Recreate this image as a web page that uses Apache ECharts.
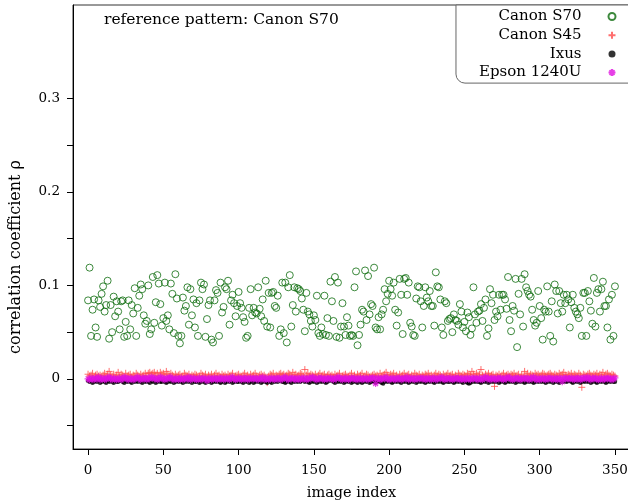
<!DOCTYPE html>
<html><head><meta charset="utf-8">
<script src="https://cdn.jsdelivr.net/npm/echarts@6/dist/echarts.min.js"></script>
<style>html,body{margin:0;padding:0;background:#fff}#c{width:628px;height:504px}</style>
</head><body><div id="c"></div>
<script>
const seriesNames = ['Canon S70', 'Canon S45', 'Ixus', 'Epson 1240U'];
const xTicks = [0, 50, 100, 150, 200, 250, 300, 350];
const yTicks = [-0.05, 0, 0.05, 0.1, 0.15, 0.2, 0.25, 0.3];
const yLabels = [0, 0.1, 0.2, 0.3];
const annotation = 'reference pattern: Canon S70';
const xTitle = 'image index';
const yTitle = 'correlation coefficient ρ';

const canonS70 = [
0.084,0.119,0.046,0.074,0.085,0.055,0.045,0.084,0.077,0.091,
0.099,0.072,0.079,0.105,0.043,0.079,0.050,0.088,0.067,0.083,
0.072,0.053,0.083,0.084,0.045,0.061,0.046,0.084,0.053,0.079,
0.070,0.097,0.046,0.076,0.089,0.101,0.096,0.068,0.059,0.062,
0.100,0.048,0.053,0.109,0.060,0.082,0.111,0.102,0.080,0.057,
0.065,0.103,0.062,0.068,0.053,0.102,0.091,0.049,0.112,0.086,
0.046,0.038,0.046,0.087,0.073,0.078,0.098,0.058,0.096,0.068,
0.085,0.055,0.081,0.046,0.084,0.103,0.096,0.101,0.045,0.064,
0.079,0.084,0.042,0.039,0.084,0.095,0.092,0.046,0.103,0.071,
0.077,0.098,0.096,0.105,0.058,0.084,0.090,0.081,0.067,0.078,
0.093,0.081,0.076,0.066,0.061,0.044,0.046,
0.076,0.096,0.068,0.076,0.071,0.070,0.098,0.075,0.067,0.085,
0.062,0.105,0.056,0.092,0.055,0.092,0.093,0.078,0.076,0.089,
0.046,0.053,0.103,0.049,0.103,0.039,0.098,0.111,0.056,0.079,
0.098,0.072,0.097,0.096,0.094,0.086,0.074,0.051,0.092,0.072,
0.069,0.062,0.056,0.068,0.063,0.089,0.049,0.046,0.055,0.048,
0.089,0.047,0.065,0.046,0.104,0.083,0.062,0.109,0.045,0.103,
0.044,0.056,0.081,0.056,0.047,0.066,0.057,0.046,0.047,0.046,
0.098,0.115,0.036,0.047,0.058,0.074,0.072,0.116,0.063,0.110,
0.069,0.080,0.078,0.119,0.055,0.053,0.066,0.053,0.069,0.074,
0.096,0.083,0.091,0.105,0.096,0.089,0.103,0.074,0.057,0.071,
0.107,0.090,0.048,0.107,0.108,0.090,0.103,0.060,0.056,0.047,
0.046,0.086,0.099,0.098,0.083,0.055,0.078,0.098,0.087,0.083,
0.094,0.078,0.078,0.057,0.114,0.099,
0.098,0.085,0.055,0.047,0.083,0.081,0.062,0.064,0.065,0.050,
0.069,0.063,0.062,0.058,0.080,0.072,0.055,0.061,0.051,0.071,
0.066,0.047,0.054,0.098,0.069,0.060,0.072,0.073,0.080,0.062,0.076,
0.085,0.046,0.054,0.096,0.081,0.090,0.063,0.072,0.067,0.090,
0.074,0.090,0.090,0.085,0.075,0.109,0.063,0.051,0.078,0.073,
0.107,0.034,0.091,0.069,0.107,0.056,0.112,0.098,0.094,0.090,
0.088,0.074,0.063,0.057,0.060,0.094,0.078,0.065,0.042,0.074,0.072,
0.099,0.072,0.046,0.083,0.040,0.101,0.094,0.070,0.094,0.081,
0.072,0.090,0.081,0.090,0.085,0.055,0.082,0.090,0.076,0.072,
0.069,0.065,0.076,0.046,0.092,0.092,0.046,0.094,0.083,0.073,
0.059,0.108,0.056,0.092,0.096,0.072,0.096,0.104,0.078,0.078,0.055,
0.085,0.042,0.090,0.046,0.099
];

const canonS45 = [
0.005,0.003,0.004,0.006,0.002,0.004,0.005,0.003,0.004,0.002,
0.004,0.006,0.003,0.005,0.008,0.004,0.003,0.005,0.002,0.004,
0.007,0.003,0.005,0.004,0.002,0.006,0.003,0.004,0.005,0.002,
0.004,0.003,0.006,0.004,0.002,0.005,0.003,0.004,0.006,0.003,
0.006,0.007,0.005,0.006,0.007,0.004,0.006,0.003,0.007,0.005,
0.006,0.004,0.008,0.005,0.003,0.006,0.004,0.002,0.005,0.003,
0.004,0.005,0.002,0.003,0.006,0.004,0.003,0.005,0.002,0.004,
0.003,0.005,0.004,0.002,0.003,0.006,0.004,0.003,0.005,0.002,
0.004,0.003,0.005,0.002,0.004,0.006,0.003,0.004,0.002,0.005,
0.003,0.004,0.002,0.005,0.003,0.004,0.006,0.002,0.003,0.004,
0.005,0.003,0.002,0.004,0.006,0.003,0.004,0.002,0.005,0.003,
0.004,0.006,0.003,0.002,0.004,0.005,0.003,0.004,0.002,-0.004,
0.003,0.005,0.004,0.006,0.002,0.004,0.003,0.005,0.006,0.004,
0.005,0.003,0.004,0.006,0.005,0.003,0.007,0.004,0.005,0.003,
0.004,0.006,0.005,0.003,0.010,0.004,0.006,0.003,0.005,0.004,
0.003,0.005,0.002,0.004,0.006,0.003,0.004,0.005,0.002,0.004,
0.005,0.003,0.004,0.002,0.005,0.003,0.004,0.006,0.002,0.003,
0.004,0.005,0.003,0.002,0.004,0.006,0.003,0.004,0.002,0.005,
0.003,0.004,0.006,0.002,0.003,0.005,0.004,0.002,0.003,0.004,
0.005,0.003,0.004,0.002,0.006,0.003,0.004,0.005,0.007,0.004,
0.003,0.005,0.004,0.006,0.003,0.004,0.002,0.005,0.003,0.004,
0.006,0.003,0.004,0.005,0.002,0.004,0.003,0.006,0.004,0.003,
0.005,0.002,0.004,0.003,0.005,0.004,0.006,0.003,0.004,0.002,
0.004,0.006,0.003,0.005,0.004,0.002,0.005,0.003,0.004,0.006,
0.003,0.004,0.005,0.002,0.004,0.003,0.006,0.004,0.003,0.005,
0.004,0.003,0.006,0.005,0.004,0.008,0.005,0.003,0.006,0.004,
0.005,0.010,0.004,0.003,0.005,0.004,0.006,0.003,0.004,0.005,
-0.008,0.004,0.003,0.005,0.002,0.004,0.006,0.003,0.004,0.005,
0.003,0.005,0.004,0.006,0.003,0.004,0.005,0.002,0.004,0.003,
0.008,0.004,0.006,0.003,0.005,0.004,0.003,0.006,0.004,0.005,
0.003,0.004,0.006,0.005,0.003,0.004,0.005,0.006,0.004,0.003,
0.005,0.004,0.003,0.006,0.004,0.005,0.007,0.004,0.003,0.005,
0.004,0.006,0.003,0.005,0.004,0.003,0.006,0.004,-0.009,0.005,
0.004,0.003,0.005,0.006,0.004,0.003,0.005,0.004,0.006,0.003,
0.005,0.004,0.007,0.003,0.005,0.006,0.004,0.003,0.005,0.004,
0.003
];

const ixus = [
-0.002,-0.003,-0.002,-0.004,-0.003,-0.002,-0.003,-0.002,-0.004,-0.003,
-0.002,-0.003,-0.004,-0.002,-0.003,-0.002,-0.003,-0.004,-0.002,-0.003,
-0.003,-0.002,-0.001,-0.003,-0.004,-0.002,-0.003,-0.002,-0.003,-0.004,
-0.002,-0.003,-0.002,-0.003,-0.001,-0.003,-0.004,-0.002,-0.003,-0.002,
-0.003,-0.004,-0.002,-0.003,-0.002,-0.004,-0.003,-0.002,-0.003,-0.003,
-0.002,-0.003,-0.004,-0.003,-0.002,-0.003,-0.002,-0.004,-0.003,-0.002,
-0.003,-0.002,-0.003,-0.004,-0.002,-0.003,-0.001,-0.003,-0.002,-0.004,
-0.002,-0.003,-0.003,-0.002,-0.004,-0.003,-0.002,-0.003,-0.004,-0.002,
-0.003,-0.002,-0.004,-0.003,-0.002,-0.003,-0.002,-0.003,-0.004,-0.003,
-0.002,-0.004,-0.003,-0.002,-0.003,-0.002,-0.004,-0.003,-0.002,-0.003,
-0.003,-0.002,-0.003,-0.004,-0.002,-0.003,-0.002,-0.004,-0.003,-0.002,
-0.004,-0.003,-0.002,-0.003,-0.002,-0.004,-0.003,-0.002,-0.003,-0.004,
-0.002,-0.003,-0.004,-0.002,-0.003,-0.002,-0.003,-0.001,-0.002,-0.003,
-0.003,-0.004,-0.003,-0.002,-0.003,-0.004,-0.002,-0.003,-0.002,-0.003,
-0.002,-0.003,-0.002,-0.001,-0.003,-0.002,-0.003,-0.004,-0.003,-0.002,
-0.003,-0.002,-0.004,-0.003,-0.002,-0.003,-0.002,-0.003,-0.004,-0.003,
-0.002,-0.001,-0.002,-0.003,-0.004,-0.002,-0.003,-0.002,-0.003,-0.002,
-0.004,-0.003,-0.002,-0.003,-0.002,-0.004,-0.003,-0.002,-0.003,-0.004,
-0.002,-0.003,-0.004,-0.003,-0.002,-0.003,-0.002,-0.004,-0.003,-0.002,
-0.003,-0.004,-0.003,-0.002,-0.003,-0.004,-0.005,-0.003,-0.002,-0.003,
-0.002,-0.003,-0.004,-0.003,-0.002,-0.003,-0.002,-0.003,-0.004,-0.002,
-0.003,-0.002,-0.003,-0.004,-0.003,-0.002,-0.003,-0.002,-0.004,-0.003,
-0.002,-0.003,-0.002,-0.003,-0.004,-0.003,-0.002,-0.003,-0.002,-0.003,
-0.004,-0.003,-0.002,-0.003,-0.002,-0.003,-0.004,-0.003,-0.002,-0.003,
-0.003,-0.002,-0.003,-0.004,-0.003,-0.002,-0.003,-0.002,-0.003,-0.004,
-0.002,-0.003,-0.004,-0.005,-0.004,-0.003,-0.002,-0.003,-0.002,-0.003,
-0.003,-0.004,-0.003,-0.002,-0.003,-0.002,-0.004,-0.003,-0.002,-0.003,
-0.002,-0.003,-0.002,-0.004,-0.003,-0.002,-0.003,-0.004,-0.003,-0.002,
-0.003,-0.002,-0.003,-0.002,-0.004,-0.003,-0.002,-0.003,-0.002,-0.003,
-0.004,-0.003,-0.002,-0.003,-0.002,-0.003,-0.004,-0.003,-0.002,-0.003,
-0.002,-0.003,-0.002,-0.003,-0.004,-0.003,-0.002,-0.003,-0.002,-0.004,
-0.003,-0.002,-0.003,-0.004,-0.003,-0.002,-0.003,-0.002,-0.003,-0.002,
-0.002,-0.003,-0.004,-0.003,-0.002,-0.003,-0.002,-0.004,-0.003,-0.002,
-0.003,-0.002,-0.003,-0.002,-0.004,-0.003,-0.002,-0.003,-0.004,-0.003,
-0.002,-0.003,-0.002,-0.003,-0.004,-0.003,-0.002,-0.003,-0.002,-0.003,
-0.003
];

const epson1240U = [
0.000,-0.001,0.001,0.000,-0.001,0.001,0.000,0.002,-0.001,0.000,
0.001,-0.001,0.000,0.001,0.002,0.000,-0.001,0.001,0.000,-0.001,
0.000,0.001,-0.001,0.000,0.002,0.001,0.000,-0.001,0.001,0.000,
-0.001,0.000,0.001,0.002,0.000,-0.001,0.001,0.000,0.001,-0.001,
0.001,0.000,0.002,0.001,0.000,0.001,-0.001,0.000,0.002,0.001,
0.000,-0.001,0.001,0.000,0.001,0.002,0.000,-0.001,0.000,0.001,
-0.001,0.000,0.001,-0.001,0.000,0.001,0.000,0.002,-0.001,0.000,
0.001,0.000,-0.001,0.000,0.001,-0.001,0.000,0.001,0.000,-0.002,
0.000,0.001,-0.001,0.000,0.001,0.000,-0.001,0.001,0.000,0.001,
-0.001,0.000,0.001,0.000,-0.001,0.001,0.002,0.000,-0.001,0.000,
0.001,0.000,-0.001,0.001,0.000,0.001,-0.001,0.000,0.001,0.000,
0.000,0.001,0.000,-0.001,0.001,0.000,0.002,-0.001,0.000,0.001,
-0.001,0.000,0.001,0.000,-0.001,0.001,0.000,0.001,-0.001,0.000,
0.001,0.002,0.000,-0.001,0.001,0.000,0.001,0.000,-0.001,0.001,
0.000,-0.001,0.001,0.000,0.001,-0.001,0.000,0.001,0.000,0.002,
0.001,0.000,-0.001,0.001,0.000,0.001,0.000,-0.001,0.001,0.000,
0.000,0.001,0.000,-0.001,0.001,0.000,0.002,0.001,0.000,-0.001,
0.001,0.000,0.001,-0.001,0.000,0.001,0.000,0.001,-0.001,0.000,
0.000,0.001,-0.001,0.000,0.001,0.000,-0.001,0.001,0.000,0.001,
0.001,-0.005,0.000,0.001,-0.001,0.000,0.001,0.000,0.002,0.000,
-0.001,0.000,0.001,0.000,-0.001,0.001,0.000,0.001,-0.001,0.000,
0.001,0.000,0.002,-0.001,0.000,0.001,0.000,-0.001,0.001,0.000,
0.000,0.001,0.000,0.001,-0.001,0.000,0.001,0.000,-0.001,0.001,
0.001,-0.001,0.000,0.001,0.000,0.002,0.000,-0.001,0.001,0.000,
0.000,0.001,-0.001,0.000,0.001,0.000,0.001,-0.001,0.000,0.001,
-0.001,0.000,0.001,0.000,-0.001,0.001,0.000,0.001,0.000,-0.001,
0.001,0.000,-0.001,0.001,0.002,0.000,0.001,-0.001,0.000,0.001,
0.000,-0.001,0.001,0.000,0.001,0.000,-0.001,0.001,0.000,0.002,
0.001,0.000,-0.001,0.000,0.001,0.000,0.001,-0.001,0.000,0.001,
0.000,0.001,0.000,-0.001,0.001,0.000,0.002,0.000,-0.001,0.001,
-0.001,0.000,0.001,0.000,-0.001,0.001,0.000,0.001,0.000,-0.001,
0.001,0.000,-0.001,0.001,0.000,-0.003,0.001,0.000,0.001,0.000,
0.000,0.001,0.000,-0.001,0.001,0.000,0.001,-0.001,0.000,0.001,
0.001,0.000,0.002,0.000,-0.001,0.001,0.000,0.001,0.000,-0.001,
0.000,0.001,-0.001,0.000,0.001,0.000,0.001,0.000,-0.001,0.000,
0.001
];

const toXY = arr => arr.map((v, i) => [i, v]);
const FONT = 'DejaVu Serif';
const PLUS = 'path://M0,5L10,5M5,0L5,10';
const STAR = 'path://M0,5L10,5M5,0L5,10M1.5,1.5L8.5,8.5M8.5,1.5L1.5,8.5';

const chart = echarts.init(document.getElementById('c'), null, { renderer: 'canvas' });
chart.setOption({
  animation: false,
  title: {
    text: annotation, left: 104, top: 12, padding: 0,
    textStyle: { fontFamily: FONT, fontSize: 15.5, fontWeight: 'normal', color: '#000' }
  },
  grid: {
    left: 73, top: 5, width: 557, height: 444,
    show: true, borderColor: '#333', borderWidth: 1,
    containLabel: false, outerBoundsMode: 'none'
  },
  legend: {
    orient: 'vertical', align: 'right', right: -20, top: 5,
    itemWidth: 7, itemHeight: 7, itemGap: 3.7,
    padding: [4, 30, 3, 23],
    backgroundColor: '#fff', borderColor: '#666', borderWidth: 1, borderRadius: [0, 0, 0, 9],
    selectedMode: false,
    textStyle: { fontFamily: FONT, fontSize: 15, color: '#000', lineHeight: 14, padding: [0, 22, 0, 0] },
    data: seriesNames
  },
  xAxis: {
    type: 'value', min: -10, max: 360,
    axisLine: { onZero: false, lineStyle: { color: '#000', width: 1 } },
    axisTick: { show: true, inside: false, length: 6, customValues: xTicks, lineStyle: { color: '#000' } },
    axisLabel: { customValues: xTicks, margin: 14, fontFamily: FONT, fontSize: 13.5, color: '#000' },
    splitLine: { show: false },
    name: xTitle, nameLocation: 'middle', nameGap: 37,
    nameTextStyle: { fontFamily: FONT, fontSize: 14.5, color: '#000' }
  },
  yAxis: {
    type: 'value', min: -0.075, max: 0.4,
    axisLine: { onZero: false, lineStyle: { color: '#000', width: 1 } },
    axisTick: { show: true, inside: false, length: 6, customValues: yTicks, lineStyle: { color: '#000' } },
    axisLabel: { customValues: yLabels, margin: 13, fontFamily: FONT, fontSize: 13.5, color: '#000' },
    splitLine: { show: false },
    name: yTitle, nameLocation: 'middle', nameGap: 49,
    nameTextStyle: { fontFamily: FONT, fontSize: 16, color: '#000', padding: [0, 60, 0, 0] }
  },
  series: [
    { name: seriesNames[0], type: 'scatter', data: toXY(canonS70), symbol: 'circle', symbolSize: 7,
      itemStyle: { color: 'rgba(0,0,0,0)', borderColor: '#0d6b0d', borderWidth: 1 }, silent: true, emphasis: { disabled: true } },
    { name: seriesNames[1], type: 'scatter', data: toXY(canonS45), symbol: PLUS, symbolSize: 7,
      itemStyle: { color: 'none', borderColor: '#ff4a4a', borderWidth: 1 }, silent: true, emphasis: { disabled: true } },
    { name: seriesNames[2], type: 'scatter', data: toXY(ixus), symbol: 'circle', symbolSize: 4.5,
      itemStyle: { color: '#000' }, silent: true, emphasis: { disabled: true } },
    { name: seriesNames[3], type: 'scatter', data: toXY(epson1240U), symbol: STAR, symbolSize: 7,
      itemStyle: { color: 'none', borderColor: '#e010e0', borderWidth: 1.2 }, silent: true, emphasis: { disabled: true } }
  ]
});
</script>
</body></html>
